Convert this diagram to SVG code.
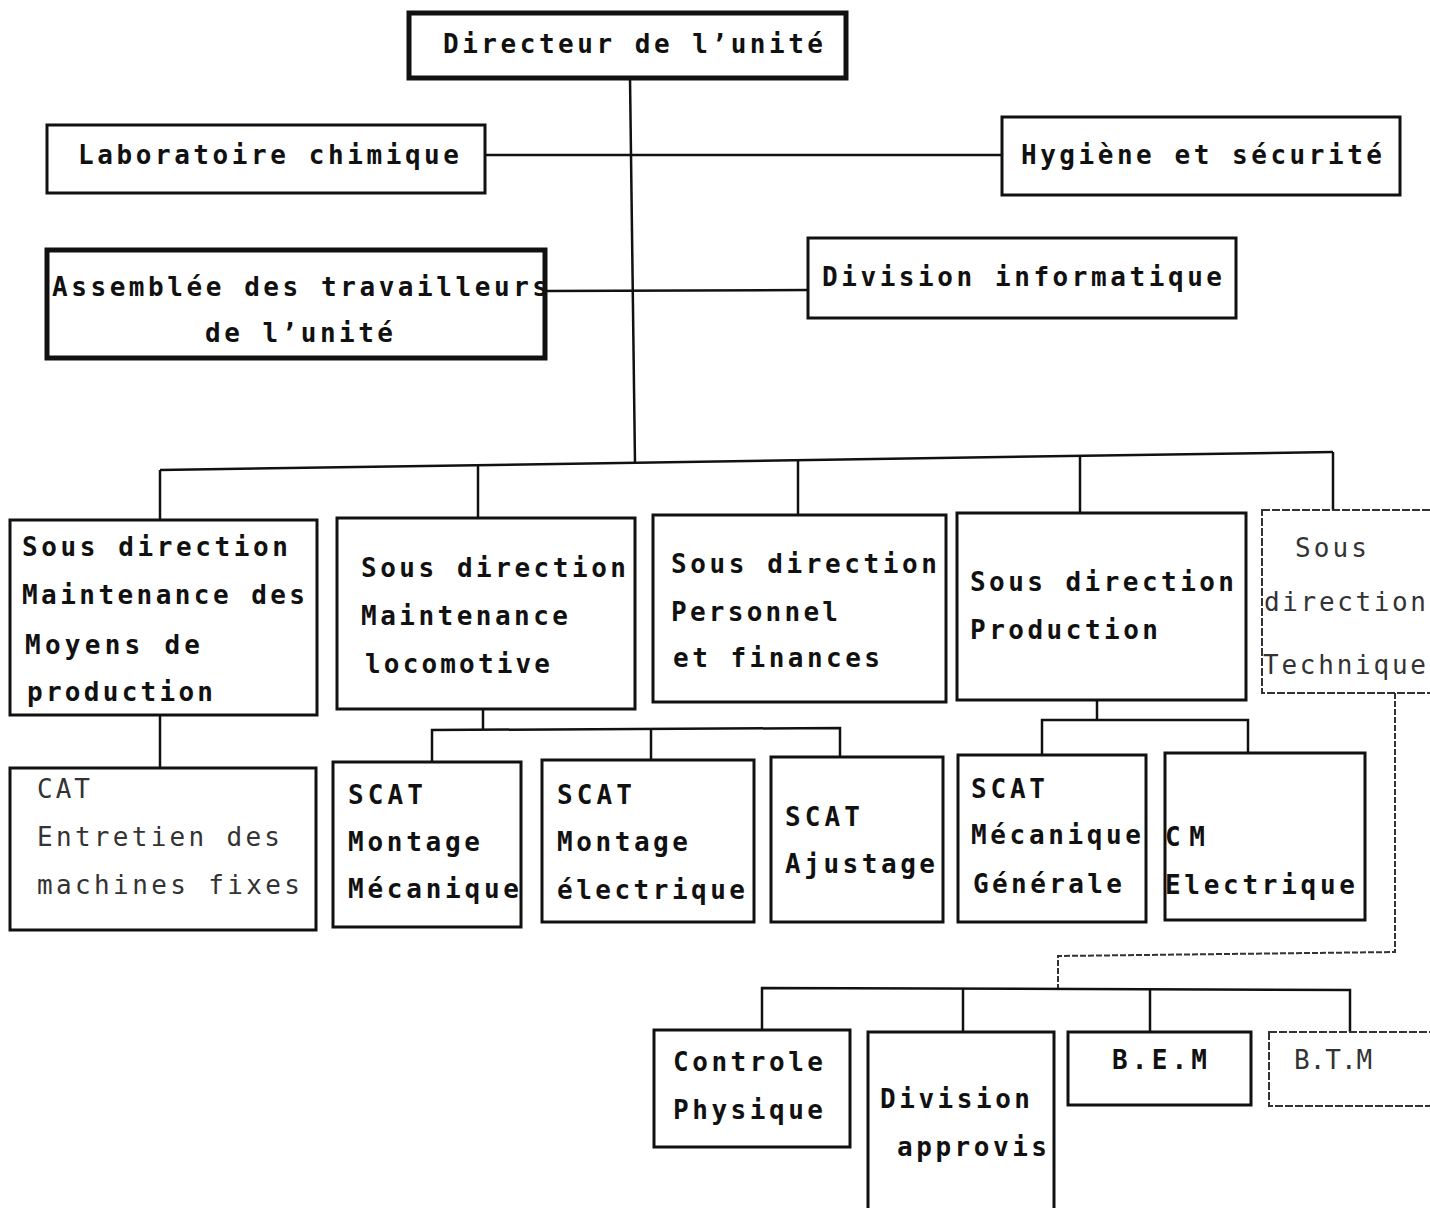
<svg xmlns="http://www.w3.org/2000/svg" width="1430" height="1208" viewBox="0 0 1430 1208">
<style>
  .box { fill: none; stroke: #111; stroke-width: 3; }
  .thick { stroke-width: 5; }
  .light { stroke: #333; stroke-width: 2; stroke-dasharray: 8 2; }
  .t { font-family: "DejaVu Sans Mono", "Liberation Mono", monospace; font-size: 26px; font-weight: bold; fill: #111; }
  .tl { fill: #333; font-weight: normal; }
  .conn line, .conn polyline { stroke: #111; stroke-width: 2.5; fill: none; }
  .conn .dash { stroke: #333; stroke-width: 2; stroke-dasharray: 6 2; }
</style>
<rect width="1430" height="1208" fill="#fff"/>

<g class="conn" id="connectors">
  <line x1="630" y1="78" x2="635" y2="463"/>
  <line x1="485" y1="155" x2="1002" y2="155"/>
  <line x1="545" y1="291" x2="808" y2="290"/>
  <line x1="160" y1="470" x2="1333" y2="452"/>
  <line x1="160" y1="470" x2="160" y2="520"/>
  <line x1="478" y1="465" x2="478" y2="518"/>
  <line x1="798" y1="460" x2="798" y2="515"/>
  <line x1="1080" y1="456" x2="1080" y2="513"/>
  <line x1="1333" y1="452" x2="1333" y2="510"/>
  <line x1="160" y1="715" x2="160" y2="768"/>
  <line x1="483" y1="709" x2="483" y2="730"/>
  <polyline points="432,762 432,730 840,728 840,757"/>
  <line x1="651" y1="729" x2="651" y2="760"/>
  <line x1="1097" y1="700" x2="1097" y2="720"/>
  <polyline points="1042,755 1042,720 1248,720 1248,753"/>
  <polyline class="dash" points="1395,693 1395,952 1058,956 1058,990"/>
  <polyline points="762,1030 762,988 1350,990 1350,1032"/>
  <line x1="963" y1="989" x2="963" y2="1032"/>
  <line x1="1150" y1="989" x2="1150" y2="1032"/>
</g>

<g id="directeur">
  <rect class="box thick" x="409" y="13" width="437" height="65"/>
  <text class="t" x="443" y="53" textLength="380" lengthAdjust="spacing">Directeur de l’unité</text>
</g>
<g id="laboratoire">
  <rect class="box" x="47" y="125" width="438" height="68"/>
  <text class="t" x="78" y="164" textLength="381" lengthAdjust="spacing">Laboratoire chimique</text>
</g>
<g id="hygiene">
  <rect class="box" x="1002" y="117" width="398" height="78"/>
  <text class="t" x="1021" y="164" textLength="361" lengthAdjust="spacing">Hygiène et sécurité</text>
</g>
<g id="assemblee">
  <rect class="box thick" x="47" y="250" width="498" height="108"/>
  <text class="t" x="52" y="296" textLength="496" lengthAdjust="spacing">Assemblée des travailleurs</text>
  <text class="t" x="205" y="342" textLength="188" lengthAdjust="spacing">de l’unité</text>
</g>
<g id="informatique">
  <rect class="box" x="808" y="238" width="428" height="80"/>
  <text class="t" x="822" y="286" textLength="400" lengthAdjust="spacing">Division informatique</text>
</g>

<g id="sd-maintenance-moyens">
  <rect class="box" x="10" y="520" width="307" height="195"/>
  <text class="t" x="22" y="556" textLength="266" lengthAdjust="spacing">Sous direction</text>
  <text class="t" x="22" y="604" textLength="283" lengthAdjust="spacing">Maintenance des</text>
  <text class="t" x="25" y="654" textLength="175" lengthAdjust="spacing">Moyens de</text>
  <text class="t" x="27" y="701" textLength="186" lengthAdjust="spacing">production</text>
</g>
<g id="sd-maintenance-loco">
  <rect class="box" x="337" y="518" width="298" height="191"/>
  <text class="t" x="361" y="577" textLength="265" lengthAdjust="spacing">Sous direction</text>
  <text class="t" x="361" y="625" textLength="207" lengthAdjust="spacing">Maintenance</text>
  <text class="t" x="365" y="673" textLength="185" lengthAdjust="spacing">locomotive</text>
</g>
<g id="sd-personnel">
  <rect class="box" x="653" y="515" width="293" height="187"/>
  <text class="t" x="671" y="573" textLength="266" lengthAdjust="spacing">Sous direction</text>
  <text class="t" x="671" y="621" textLength="167" lengthAdjust="spacing">Personnel</text>
  <text class="t" x="673" y="667" textLength="207" lengthAdjust="spacing">et finances</text>
</g>
<g id="sd-production">
  <rect class="box" x="957" y="513" width="289" height="187"/>
  <text class="t" x="970" y="591" textLength="264" lengthAdjust="spacing">Sous direction</text>
  <text class="t" x="970" y="639" textLength="188" lengthAdjust="spacing">Production</text>
</g>
<g id="sd-technique">
  <rect class="box light" x="1262" y="510" width="180" height="183"/>
  <text class="t tl" x="1295" y="557" textLength="72" lengthAdjust="spacing">Sous</text>
  <text class="t tl" x="1264" y="611" textLength="162" lengthAdjust="spacing">direction</text>
  <text class="t tl" x="1263" y="674" textLength="163" lengthAdjust="spacing">Technique</text>
</g>

<g id="cat">
  <rect class="box" x="10" y="768" width="306" height="162"/>
  <text class="t tl" x="37" y="798" textLength="53" lengthAdjust="spacing">CAT</text>
  <text class="t tl" x="37" y="846" textLength="243" lengthAdjust="spacing">Entretien des</text>
  <text class="t tl" x="37" y="894" textLength="263" lengthAdjust="spacing">machines fixes</text>
</g>
<g id="scat-montage-meca">
  <rect class="box" x="333" y="762" width="188" height="165"/>
  <text class="t" x="348" y="804" textLength="75" lengthAdjust="spacing">SCAT</text>
  <text class="t" x="348" y="851" textLength="132" lengthAdjust="spacing">Montage</text>
  <text class="t" x="348" y="898" textLength="171" lengthAdjust="spacing">Mécanique</text>
</g>
<g id="scat-montage-elec">
  <rect class="box" x="542" y="760" width="212" height="162"/>
  <text class="t" x="557" y="804" textLength="75" lengthAdjust="spacing">SCAT</text>
  <text class="t" x="557" y="851" textLength="131" lengthAdjust="spacing">Montage</text>
  <text class="t" x="557" y="899" textLength="188" lengthAdjust="spacing">électrique</text>
</g>
<g id="scat-ajustage">
  <rect class="box" x="771" y="757" width="172" height="165"/>
  <text class="t" x="785" y="826" textLength="75" lengthAdjust="spacing">SCAT</text>
  <text class="t" x="785" y="873" textLength="150" lengthAdjust="spacing">Ajustage</text>
</g>
<g id="scat-meca-generale">
  <rect class="box" x="958" y="755" width="188" height="167"/>
  <text class="t" x="971" y="798" textLength="74" lengthAdjust="spacing">SCAT</text>
  <text class="t" x="971" y="844" textLength="170" lengthAdjust="spacing">Mécanique</text>
  <text class="t" x="973" y="893" textLength="149" lengthAdjust="spacing">Générale</text>
</g>
<g id="cm-electrique">
  <rect class="box" x="1165" y="753" width="200" height="167"/>
  <text class="t" x="1165" y="846" textLength="40" lengthAdjust="spacing">CM</text>
  <text class="t" x="1165" y="894" textLength="190" lengthAdjust="spacing">Electrique</text>
</g>

<g id="controle-physique">
  <rect class="box" x="654" y="1030" width="196" height="117"/>
  <text class="t" x="673" y="1071" textLength="150" lengthAdjust="spacing">Controle</text>
  <text class="t" x="673" y="1119" textLength="150" lengthAdjust="spacing">Physique</text>
</g>
<g id="division-approvis">
  <rect class="box" x="868" y="1032" width="186" height="190"/>
  <text class="t" x="880" y="1108" textLength="150" lengthAdjust="spacing">Division</text>
  <text class="t" x="897" y="1156" textLength="150" lengthAdjust="spacing">approvis</text>
</g>
<g id="bem">
  <rect class="box" x="1068" y="1032" width="183" height="73"/>
  <text class="t" x="1112" y="1069" textLength="95" lengthAdjust="spacing">B.E.M</text>
</g>
<g id="btm">
  <rect class="box light" x="1269" y="1032" width="180" height="74"/>
  <text class="t tl" x="1294" y="1069">B.T.M</text>
</g>
</svg>
